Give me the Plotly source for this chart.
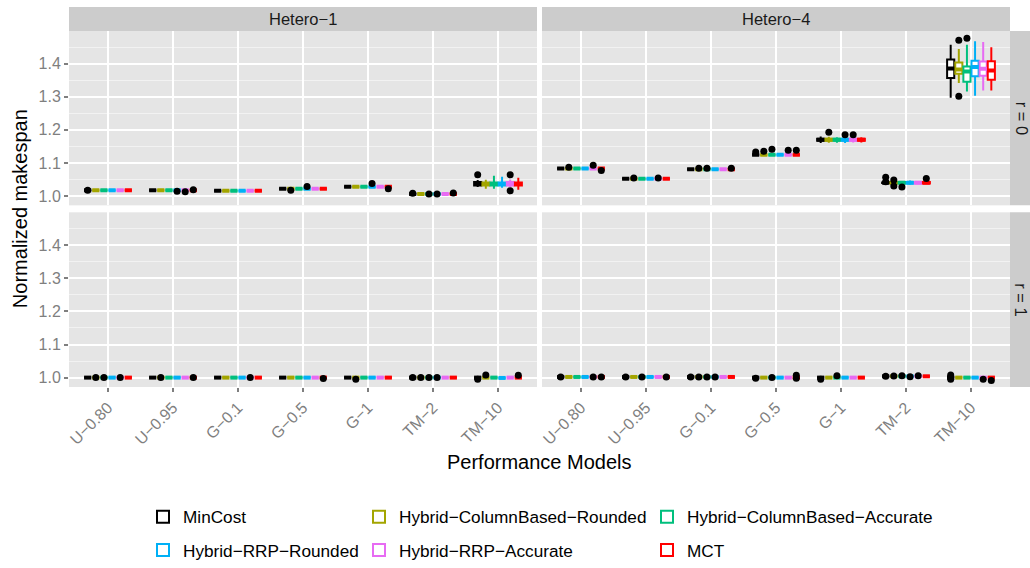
import plotly.graph_objects as go

# ---------------- data ----------------
CATEGORIES = ["U−0.80", "U−0.95", "G−0.1", "G−0.5", "G−1", "TM−2", "TM−10"]
SERIES = ["MinCost", "Hybrid−ColumnBased−Rounded", "Hybrid−ColumnBased−Accurate",
          "Hybrid−RRP−Rounded", "Hybrid−RRP−Accurate", "MCT"]
COLORS = ["#000000", "#A3A500", "#00BF7D", "#00B0F6", "#E76BF3", "#FF0000"]
FACET_COLS = ["Hetero−1", "Hetero−4"]
FACET_ROWS = ["r = 0", "r = 1"]
Y_TICKS = [1.0, 1.1, 1.2, 1.3, 1.4]
Y_MINOR = [1.05, 1.15, 1.25, 1.35, 1.45]

# medians: one row per series, one column per category
H1_R0_MEDIAN = [
    [1.017, 1.017, 1.016, 1.022, 1.028, 1.006, 1.037],
    [1.017, 1.017, 1.016, 1.022, 1.028, 1.006, 1.036],
    [1.017, 1.017, 1.016, 1.022, 1.028, 1.006, 1.036],
    [1.017, 1.017, 1.016, 1.022, 1.028, 1.006, 1.036],
    [1.017, 1.017, 1.016, 1.022, 1.028, 1.006, 1.037],
    [1.017, 1.017, 1.016, 1.022, 1.028, 1.006, 1.036],
]
# (series, category): (lower whisker, q1, q3, upper whisker); others are flat
H1_R0_SPREAD = {
    (0, 6): (1.027, 1.032, 1.042, 1.048),
    (1, 6): (1.022, 1.032, 1.041, 1.049),
    (2, 6): (1.022, 1.032, 1.041, 1.061),
    (3, 6): (1.025, 1.032, 1.041, 1.058),
    (4, 6): (1.026, 1.032, 1.042, 1.050),
    (5, 6): (1.019, 1.032, 1.041, 1.055),
}
H1_R0_OUT_SERIES = [0, 3, 4, 5, 1, 3, 3, 5, 0, 2, 3, 5, 0, 4, 4]
H1_R0_OUT_CAT = [0, 1, 1, 1, 3, 3, 4, 4, 5, 5, 5, 5, 6, 6, 6]
H1_R0_OUT_VALUE = [1.017, 1.014, 1.013, 1.019, 1.017, 1.029, 1.038, 1.022,
                   1.008, 1.006, 1.006, 1.009, 1.064, 1.064, 1.016]

H4_R0_MEDIAN = [
    [1.083, 1.052, 1.081, 1.125, 1.170, 1.040, 1.386],
    [1.083, 1.052, 1.081, 1.125, 1.170, 1.040, 1.383],
    [1.083, 1.052, 1.081, 1.125, 1.170, 1.040, 1.377],
    [1.083, 1.052, 1.081, 1.125, 1.170, 1.040, 1.390],
    [1.083, 1.052, 1.081, 1.125, 1.170, 1.040, 1.385],
    [1.083, 1.052, 1.081, 1.125, 1.170, 1.040, 1.380],
]
H4_R0_SPREAD = {
    (0, 4): (1.160, 1.167, 1.173, 1.180),
    (1, 4): (1.161, 1.167, 1.173, 1.179),
    (2, 4): (1.161, 1.167, 1.173, 1.178),
    (3, 4): (1.160, 1.167, 1.173, 1.180),
    (4, 4): (1.162, 1.167, 1.173, 1.178),
    (5, 4): (1.162, 1.167, 1.173, 1.178),
    (0, 5): (1.038, 1.039, 1.041, 1.042),
    (1, 5): (1.036, 1.038, 1.042, 1.044),
    (2, 5): (1.035, 1.038, 1.042, 1.045),
    (3, 5): (1.034, 1.038, 1.042, 1.047),
    (4, 5): (1.035, 1.038, 1.042, 1.045),
    (5, 5): (1.035, 1.038, 1.042, 1.045),
    (0, 6): (1.297, 1.357, 1.413, 1.458),
    (1, 6): (1.342, 1.370, 1.404, 1.445),
    (2, 6): (1.316, 1.346, 1.392, 1.458),
    (3, 6): (1.303, 1.362, 1.409, 1.468),
    (4, 6): (1.319, 1.364, 1.407, 1.466),
    (5, 6): (1.319, 1.352, 1.408, 1.450),
}
H4_R0_OUT_SERIES = [1, 4, 5, 1, 4, 1, 2, 5, 0, 1, 2, 4, 5, 1, 3, 4,
                    0, 0, 1, 1, 2, 5, 1, 1, 2]
H4_R0_OUT_CAT = [0, 0, 0, 1, 1, 2, 2, 2, 3, 3, 3, 3, 3, 4, 4, 4,
                 5, 5, 5, 5, 5, 5, 6, 6, 6]
H4_R0_OUT_VALUE = [1.087, 1.093, 1.077, 1.054, 1.054, 1.084, 1.084, 1.084,
                   1.133, 1.135, 1.141, 1.138, 1.138, 1.193, 1.185, 1.185,
                   1.057, 1.043, 1.048, 1.030, 1.027, 1.053, 1.471, 1.302, 1.477]

H1_R1_MEDIAN = [
    [1.000, 1.000, 1.000, 1.000, 1.000, 1.000, 1.000],
    [1.000, 1.000, 1.000, 1.000, 1.000, 1.000, 1.000],
    [1.000, 1.000, 1.000, 1.000, 1.000, 1.000, 1.000],
    [1.000, 1.000, 1.000, 1.000, 1.000, 1.000, 0.999],
    [1.000, 1.000, 1.000, 1.000, 1.000, 1.000, 1.000],
    [1.000, 1.000, 1.000, 1.000, 1.000, 1.000, 1.000],
]
H1_R1_SPREAD = {}
H1_R1_OUT_SERIES = [1, 2, 4, 1, 5, 4, 5, 1, 0, 1, 2, 3, 0, 1, 5]
H1_R1_OUT_CAT = [0, 0, 0, 1, 1, 2, 3, 4, 5, 5, 5, 5, 6, 6, 6]
H1_R1_OUT_VALUE = [1.000, 1.000, 1.000, 1.000, 1.000, 1.000, 0.997, 0.995,
                   1.000, 1.000, 1.000, 1.000, 0.995, 1.008, 1.007]

H4_R1_MEDIAN = [
    [1.002, 1.002, 1.002, 1.000, 1.000, 1.004, 1.000],
    [1.002, 1.002, 1.002, 1.000, 1.000, 1.004, 1.000],
    [1.002, 1.002, 1.002, 1.000, 1.000, 1.004, 1.000],
    [1.002, 1.002, 1.002, 1.000, 1.000, 1.004, 1.000],
    [1.002, 1.002, 1.002, 1.000, 1.000, 1.004, 1.000],
    [1.002, 1.002, 1.002, 1.000, 1.000, 1.004, 1.000],
]
H4_R1_SPREAD = {}
H4_R1_OUT_SERIES = [0, 4, 5, 0, 2, 5, 0, 1, 2, 3, 0, 2, 5, 5, 0, 2,
                    0, 1, 2, 3, 4, 0, 0, 0, 4, 5]
H4_R1_OUT_CAT = [0, 0, 0, 1, 1, 1, 2, 2, 2, 2, 3, 3, 3, 3, 4, 4,
                 5, 5, 5, 5, 5, 6, 6, 6, 6, 6]
H4_R1_OUT_VALUE = [1.002, 1.002, 1.002, 1.002, 1.002, 1.002, 1.002, 1.002, 1.002, 1.002,
                   0.998, 1.000, 1.007, 0.998, 0.995, 1.006,
                   1.004, 1.005, 1.006, 1.003, 1.006, 1.008, 0.995, 1.002, 0.995, 0.991]

# ---------------- styling / layout ----------------
W, H = 1030, 568
FONT = "Liberation Sans, Arial, Helvetica, sans-serif"
PANEL_BG = "#E5E5E5"
STRIP_BG = "#CCCCCC"
GREY50 = "#7F7F7F"

X_DOM = [[69 / W, 537 / W], [542 / W, 1010 / W]]
Y_DOM = [[1 - 205.7 / H, 1 - 31 / H], [1 - 387.7 / H, 1 - 212.7 / H]]
X_RANGE = [-0.6, 6.6]
Y_RANGE = [0.9716, 1.4994]

DODGE = 0.75
N = len(SERIES)
SLOT = DODGE / N
BOX_W = 0.11
OFFSETS = [(k - (N - 1) / 2) * SLOT for k in range(N)]

FACETS = [
    (H1_R0_MEDIAN, H1_R0_SPREAD, H1_R0_OUT_SERIES, H1_R0_OUT_CAT, H1_R0_OUT_VALUE, 0, 0),
    (H4_R0_MEDIAN, H4_R0_SPREAD, H4_R0_OUT_SERIES, H4_R0_OUT_CAT, H4_R0_OUT_VALUE, 1, 0),
    (H1_R1_MEDIAN, H1_R1_SPREAD, H1_R1_OUT_SERIES, H1_R1_OUT_CAT, H1_R1_OUT_VALUE, 0, 1),
    (H4_R1_MEDIAN, H4_R1_SPREAD, H4_R1_OUT_SERIES, H4_R1_OUT_CAT, H4_R1_OUT_VALUE, 1, 1),
]
LEGEND_OF_SERIES = ["legend", "legend2", "legend3", "legend", "legend2", "legend3"]

fig = go.Figure()

for fi, (med, spread, o_s, o_c, o_v, col, row) in enumerate(FACETS):
    ax = fi + 1
    xa = "x" if ax == 1 else f"x{ax}"
    ya = "y" if ax == 1 else f"y{ax}"
    for k in range(N):
        pos = [i + OFFSETS[k] for i in range(len(CATEGORIES))]
        m = med[k]
        lo, q1, q3, hi = [], [], [], []
        for i in range(len(CATEGORIES)):
            s = spread.get((k, i), (m[i], m[i], m[i], m[i]))
            lo.append(s[0]); q1.append(s[1]); q3.append(s[2]); hi.append(s[3])
        fig.add_trace(go.Box(
            x=pos, q1=q1, median=m, q3=q3, lowerfence=lo, upperfence=hi,
            name=SERIES[k], legendgroup=SERIES[k], legend=LEGEND_OF_SERIES[k],
            showlegend=(fi == 0), width=BOX_W, whiskerwidth=0,
            line=dict(color=COLORS[k], width=2), fillcolor="white",
            boxpoints=False, xaxis=xa, yaxis=ya, hoverinfo="skip"))
        # thick median (ggplot fatten = 2)
        mx, my = [], []
        for i in range(len(CATEGORIES)):
            mx += [pos[i] - BOX_W / 2, pos[i] + BOX_W / 2, None]
            my += [m[i], m[i], None]
        fig.add_trace(go.Scatter(
            x=mx, y=my, mode="lines", line=dict(color=COLORS[k], width=4),
            showlegend=False, xaxis=xa, yaxis=ya, hoverinfo="skip"))
    ox = [o_c[j] + OFFSETS[o_s[j]] for j in range(len(o_v))]
    fig.add_trace(go.Scatter(
        x=ox, y=o_v, mode="markers", marker=dict(color="black", size=7, line=dict(width=0)),
        showlegend=False, xaxis=xa, yaxis=ya, hoverinfo="skip"))

layout = dict(
    width=W, height=H, autosize=False,
    margin=dict(l=0, r=0, t=0, b=0),
    paper_bgcolor="white", plot_bgcolor=PANEL_BG,
    font=dict(family=FONT, color="black"),
    boxmode="overlay",
)
for fi in range(4):
    col, row = FACETS[fi][5], FACETS[fi][6]
    ax = fi + 1
    xkey = "xaxis" if ax == 1 else f"xaxis{ax}"
    ykey = "yaxis" if ax == 1 else f"yaxis{ax}"
    layout[xkey] = dict(
        domain=X_DOM[col], anchor="y" if ax == 1 else f"y{ax}",
        range=X_RANGE, tickmode="array", tickvals=list(range(len(CATEGORIES))),
        ticktext=CATEGORIES, showticklabels=(row == 1), tickangle=-45,
        ticks="outside" if row == 1 else "", ticklen=4, tickwidth=1.5, tickcolor=GREY50,
        tickfont=dict(size=16, color=GREY50, family=FONT),
        showgrid=True, gridcolor="white", gridwidth=1.6, zeroline=False,
        showline=False, automargin=False,
    )
    layout[ykey] = dict(
        domain=Y_DOM[row], anchor="x" if ax == 1 else f"x{ax}",
        range=Y_RANGE, tickmode="array", tickvals=Y_TICKS,
        ticktext=[f"{v:.1f}" for v in Y_TICKS], showticklabels=(col == 0),
        ticks="outside" if col == 0 else "", ticklen=4, tickwidth=1.5, tickcolor=GREY50,
        tickfont=dict(size=16, color=GREY50, family=FONT),
        showgrid=True, gridcolor="white", gridwidth=1.6, zeroline=False,
        showline=False, automargin=False,
        minor=dict(tickmode="array", tickvals=Y_MINOR, showgrid=True,
                   gridcolor="#F2F2F2", gridwidth=0.8, ticks=""),
    )

legend_common = dict(
    orientation="v", xanchor="left", yanchor="top", bgcolor="rgba(0,0,0,0)",
    font=dict(size=17.2, color="black", family=FONT), traceorder="grouped",
    tracegroupgap=8, itemwidth=30,
)
layout["legend"] = dict(x=143 / W, y=1 - 500 / H, **legend_common)
layout["legend2"] = dict(x=359 / W, y=1 - 500 / H, **legend_common)
layout["legend3"] = dict(x=647 / W, y=1 - 500 / H, **legend_common)

shapes = []
annotations = []
for c in range(2):
    shapes.append(dict(type="rect", xref="paper", yref="paper",
                       x0=X_DOM[c][0], x1=X_DOM[c][1], y0=1 - 31 / H, y1=1 - 7 / H,
                       fillcolor=STRIP_BG, line=dict(width=0), layer="below"))
    annotations.append(dict(text=FACET_COLS[c], xref="paper", yref="paper",
                            x=(X_DOM[c][0] + X_DOM[c][1]) / 2, y=1 - 19 / H,
                            showarrow=False, font=dict(size=16.5, color="#1A1A1A", family=FONT),
                            xanchor="center", yanchor="middle"))
for r in range(2):
    shapes.append(dict(type="rect", xref="paper", yref="paper",
                       x0=1010 / W, x1=1.0, y0=Y_DOM[r][0], y1=Y_DOM[r][1],
                       fillcolor=STRIP_BG, line=dict(width=0), layer="below"))
    annotations.append(dict(text=FACET_ROWS[r], xref="paper", yref="paper",
                            x=1021.5 / W, y=(Y_DOM[r][0] + Y_DOM[r][1]) / 2,
                            showarrow=False, textangle=90,
                            font=dict(size=16.5, color="#1A1A1A", family=FONT),
                            xanchor="center", yanchor="middle"))
annotations.append(dict(text="Normalized makespan", xref="paper", yref="paper",
                        x=20 / W, y=1 - 209.5 / H, showarrow=False, textangle=-90,
                        font=dict(size=20, color="black", family=FONT),
                        xanchor="center", yanchor="middle"))
annotations.append(dict(text="Performance Models", xref="paper", yref="paper",
                        x=539.5 / W, y=1 - 463 / H, showarrow=False,
                        font=dict(size=20, color="black", family=FONT),
                        xanchor="center", yanchor="middle"))
layout["shapes"] = shapes
layout["annotations"] = annotations

fig.update_layout(**layout)
fig.write_html("out.html")
